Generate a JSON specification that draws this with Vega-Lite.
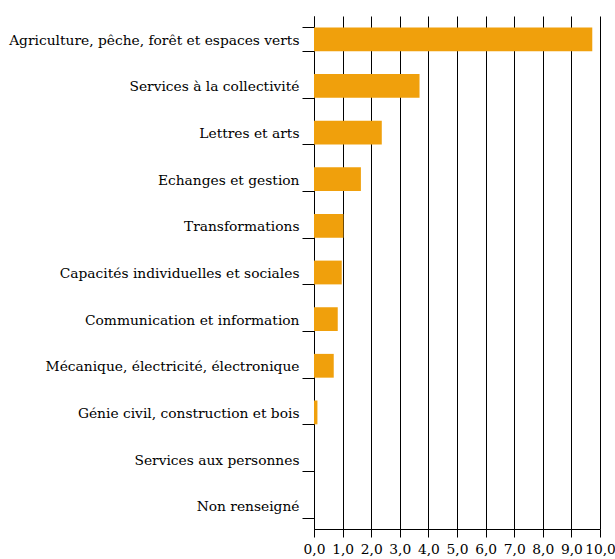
{
  "$schema": "https://vega.github.io/schema/vega-lite/v6.json",
  "autosize": {"type": "none"},
  "padding": {"left": 314, "top": 16, "right": 15, "bottom": 30},
  "width": 286,
  "height": 513,
  "background": "white",
  "config": {
    "view": {"stroke": null},
    "font": "DejaVu Serif"
  },
  "data": {
    "values": [
      {"cat": "Agriculture, pêche, forêt et espaces verts", "v": 9.73},
      {"cat": "Services à la collectivité", "v": 3.69},
      {"cat": "Lettres et arts", "v": 2.37},
      {"cat": "Echanges et gestion", "v": 1.64},
      {"cat": "Transformations", "v": 1.03},
      {"cat": "Capacités individuelles et sociales", "v": 0.97},
      {"cat": "Communication et information", "v": 0.83},
      {"cat": "Mécanique, électricité, électronique", "v": 0.69},
      {"cat": "Génie civil, construction et bois", "v": 0.12},
      {"cat": "Services aux personnes", "v": 0},
      {"cat": "Non renseigné", "v": 0}
    ]
  },
  "mark": {"type": "bar", "color": "#F0A00C"},
  "encoding": {
    "y": {
      "field": "cat",
      "type": "nominal",
      "sort": null,
      "title": null,
      "scale": {"paddingInner": 0.49, "paddingOuter": 0.245},
      "axis": {
        "tickBand": "extent",
        "tickSize": 12,
        "tickColor": "#000",
        "domainColor": "#000",
        "labelPadding": 3,
        "labelFontSize": 13.8,
        "labelColor": "#000",
        "labelFont": "DejaVu Serif",
        "labelLimit": 400,
        "labelOffset": 1,
        "grid": false
      }
    },
    "x": {
      "field": "v",
      "type": "quantitative",
      "title": null,
      "scale": {"domain": [0, 10], "nice": false},
      "axis": {
        "values": [0, 1, 2, 3, 4, 5, 6, 7, 8, 9, 10],
        "labelExpr": "replace(format(datum.value, '.1f'), '.', ',')",
        "grid": true,
        "gridColor": "#000",
        "gridOpacity": 1,
        "tickSize": 8,
        "tickColor": "#000",
        "domainColor": "#000",
        "labelPadding": 5,
        "labelFontSize": 13.8,
        "labelColor": "#000",
        "labelFont": "DejaVu Serif",
        "labelFlush": false,
        "labelOverlap": false
      }
    }
  }
}
